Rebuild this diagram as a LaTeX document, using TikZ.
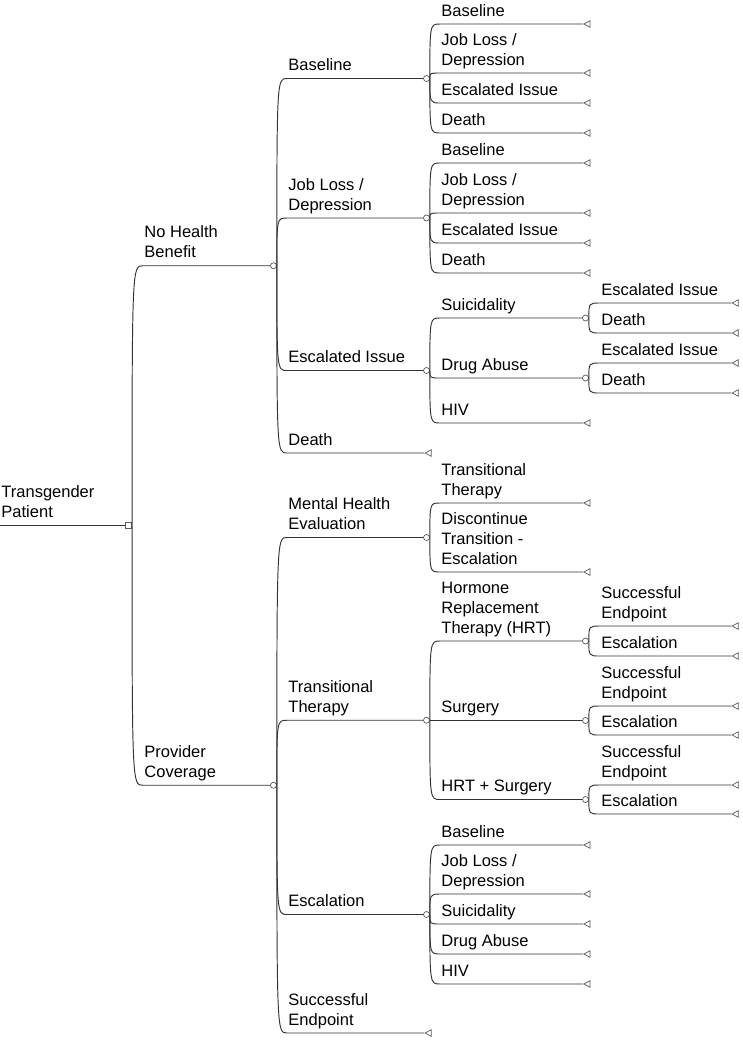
\documentclass[tikz,border=0pt]{standalone}
\usepackage{fontspec}
\setmainfont{Liberation Sans}
\usetikzlibrary{shapes.geometric}
\definecolor{edgegray}{HTML}{333333}
\definecolor{markgray}{HTML}{5A5A5A}

\begin{document}
\begin{tikzpicture}[x=1pt, y=-1pt, line width=0.95pt, color=edgegray,
    lbl/.style={anchor=south west, inner xsep=1pt, inner ysep=1.5pt, align=left, text=black,
      font=\fontsize{16.5}{20}\selectfont, execute at end node=\strut},
    chance/.style={circle, draw=markgray, fill=white, line width=0.7pt, inner sep=0pt, minimum size=6pt},
    decision/.style={rectangle, draw=markgray, fill=white, line width=0.7pt, inner sep=0pt, minimum size=6pt},
    term/.style={isosceles triangle, shape border rotate=180, isosceles triangle stretches,
      draw=markgray, line width=0.7pt, inner sep=0pt, minimum width=6.5pt, minimum height=6pt, anchor=apex},
    link/.style={to path={.. controls (\tikztostart |- \tikztotarget) and (\tikztostart |- \tikztotarget) .. (\tikztotarget)}}]
    \useasboundingbox (0,0) rectangle (742,1042);

    % root
    \node[lbl] (tp) at (0,525.5) {Transgender\\Patient};
    \node[decision] (tpD) at (128.7,525.5) {};
    \draw (tp.south west) -- (tpD);

    % no health benefit
    \node[lbl] (nh) at (143,265.75) {No Health\\Benefit};
    \node[chance] (nhC) at (273.5,265.75) {};
    \draw (tpD.east) to[link] (nh.south west) -- (nhC);

    \node[lbl] (nhBase) at (287,78.5) {Baseline};
    \node[chance] (nhBaseC) at (426.5,78.5) {};
    \draw (nhC.east) to[link] (nhBase.south west) -- (nhBaseC);
    \node[lbl] (nhBase1) at (440,24) {Baseline};
    \node[term] (nhBase1T) at (583,24) {};
    \draw (nhBaseC.east) to[link] (nhBase1.south west) -- (nhBase1T);
    \node[lbl] (nhBase2) at (440,73) {Job Loss /\\Depression};
    \node[term] (nhBase2T) at (583,73) {};
    \draw (nhBaseC.east) to[link] (nhBase2.south west) -- (nhBase2T);
    \node[lbl] (nhBase3) at (440,103) {Escalated Issue};
    \node[term] (nhBase3T) at (583,103) {};
    \draw (nhBaseC.east) to[link] (nhBase3.south west) -- (nhBase3T);
    \node[lbl] (nhBase4) at (440,133) {Death};
    \node[term] (nhBase4T) at (583,133) {};
    \draw (nhBaseC.east) to[link] (nhBase4.south west) -- (nhBase4T);

    \node[lbl] (nhJob) at (287,218) {Job Loss /\\Depression};
    \node[chance] (nhJobC) at (426.5,218) {};
    \draw (nhC.east) to[link] (nhJob.south west) -- (nhJobC);
    \node[lbl] (nhJob1) at (440,163) {Baseline};
    \node[term] (nhJob1T) at (583,163) {};
    \draw (nhJobC.east) to[link] (nhJob1.south west) -- (nhJob1T);
    \node[lbl] (nhJob2) at (440,213) {Job Loss /\\Depression};
    \node[term] (nhJob2T) at (583,213) {};
    \draw (nhJobC.east) to[link] (nhJob2.south west) -- (nhJob2T);
    \node[lbl] (nhJob3) at (440,243) {Escalated Issue};
    \node[term] (nhJob3T) at (583,243) {};
    \draw (nhJobC.east) to[link] (nhJob3.south west) -- (nhJob3T);
    \node[lbl] (nhJob4) at (440,273) {Death};
    \node[term] (nhJob4T) at (583,273) {};
    \draw (nhJobC.east) to[link] (nhJob4.south west) -- (nhJob4T);

    \node[lbl] (nhEsc) at (287,370.5) {Escalated Issue};
    \node[chance] (nhEscC) at (426.5,370.5) {};
    \draw (nhC.east) to[link] (nhEsc.south west) -- (nhEscC);
    \node[lbl] (nhSui) at (440,318) {Suicidality};
    \node[chance] (nhSuiC) at (585.5,318) {};
    \draw (nhEscC.east) to[link] (nhSui.south west) -- (nhSuiC);
    \node[lbl] (nhSui1) at (600,303) {Escalated Issue};
    \node[term] (nhSui1T) at (731.3,303) {};
    \draw (nhSuiC.east) to[link] (nhSui1.south west) -- (nhSui1T);
    \node[lbl] (nhSui2) at (600,333) {Death};
    \node[term] (nhSui2T) at (731.3,333) {};
    \draw (nhSuiC.east) to[link] (nhSui2.south west) -- (nhSui2T);
    \node[lbl] (nhDrug) at (440,378) {Drug Abuse};
    \node[chance] (nhDrugC) at (585.5,378) {};
    \draw (nhEscC.east) to[link] (nhDrug.south west) -- (nhDrugC);
    \node[lbl] (nhDrug1) at (600,363) {Escalated Issue};
    \node[term] (nhDrug1T) at (731.3,363) {};
    \draw (nhDrugC.east) to[link] (nhDrug1.south west) -- (nhDrug1T);
    \node[lbl] (nhDrug2) at (600,393) {Death};
    \node[term] (nhDrug2T) at (731.3,393) {};
    \draw (nhDrugC.east) to[link] (nhDrug2.south west) -- (nhDrug2T);
    \node[lbl] (nhHiv) at (440,423) {HIV};
    \node[term] (nhHivT) at (583,423) {};
    \draw (nhEscC.east) to[link] (nhHiv.south west) -- (nhHivT);

    \node[lbl] (nhDeath) at (287,453) {Death};
    \node[term] (nhDeathT) at (424.3,453) {};
    \draw (nhC.east) to[link] (nhDeath.south west) -- (nhDeathT);

    % provider coverage
    \node[lbl] (pv) at (143,785.25) {Provider\\Coverage};
    \node[chance] (pvC) at (273.5,785.25) {};
    \draw (tpD.east) to[link] (pv.south west) -- (pvC);

    \node[lbl] (pvMental) at (287,537.5) {Mental Health\\Evaluation};
    \node[chance] (pvMentalC) at (426.5,537.5) {};
    \draw (pvC.east) to[link] (pvMental.south west) -- (pvMentalC);
    \node[lbl] (pvMental1) at (440,503) {Transitional\\Therapy};
    \node[term] (pvMental1T) at (583,503) {};
    \draw (pvMentalC.east) to[link] (pvMental1.south west) -- (pvMental1T);
    \node[lbl] (pvMental2) at (440,572) {Discontinue\\Transition -\\Escalation};
    \node[term] (pvMental2T) at (583,572) {};
    \draw (pvMentalC.east) to[link] (pvMental2.south west) -- (pvMental2T);

    \node[lbl] (pvTrans) at (287,720.25) {Transitional\\Therapy};
    \node[chance] (pvTransC) at (426.5,720.25) {};
    \draw (pvC.east) to[link] (pvTrans.south west) -- (pvTransC);
    \node[lbl] (pvHrt) at (440,641) {Hormone\\Replacement\\Therapy (HRT)};
    \node[chance] (pvHrtC) at (585.5,641) {};
    \draw (pvTransC.east) to[link] (pvHrt.south west) -- (pvHrtC);
    \node[lbl] (pvHrt1) at (600,626) {Successful\\Endpoint};
    \node[term] (pvHrt1T) at (731.3,626) {};
    \draw (pvHrtC.east) to[link] (pvHrt1.south west) -- (pvHrt1T);
    \node[lbl] (pvHrt2) at (600,656) {Escalation};
    \node[term] (pvHrt2T) at (731.3,656) {};
    \draw (pvHrtC.east) to[link] (pvHrt2.south west) -- (pvHrt2T);
    \node[lbl] (pvSurg) at (440,720.5) {Surgery};
    \node[chance] (pvSurgC) at (585.5,720.5) {};
    \draw (pvTransC.east) to[link] (pvSurg.south west) -- (pvSurgC);
    \node[lbl] (pvSurg1) at (600,706) {Successful\\Endpoint};
    \node[term] (pvSurg1T) at (731.3,706) {};
    \draw (pvSurgC.east) to[link] (pvSurg1.south west) -- (pvSurg1T);
    \node[lbl] (pvSurg2) at (600,735) {Escalation};
    \node[term] (pvSurg2T) at (731.3,735) {};
    \draw (pvSurgC.east) to[link] (pvSurg2.south west) -- (pvSurg2T);
    \node[lbl] (pvBoth) at (440,799.5) {HRT + Surgery};
    \node[chance] (pvBothC) at (585.5,799.5) {};
    \draw (pvTransC.east) to[link] (pvBoth.south west) -- (pvBothC);
    \node[lbl] (pvBoth1) at (600,785) {Successful\\Endpoint};
    \node[term] (pvBoth1T) at (731.3,785) {};
    \draw (pvBothC.east) to[link] (pvBoth1.south west) -- (pvBoth1T);
    \node[lbl] (pvBoth2) at (600,814) {Escalation};
    \node[term] (pvBoth2T) at (731.3,814) {};
    \draw (pvBothC.east) to[link] (pvBoth2.south west) -- (pvBoth2T);

    \node[lbl] (pvEsc) at (287,914.5) {Escalation};
    \node[chance] (pvEscC) at (426.5,914.5) {};
    \draw (pvC.east) to[link] (pvEsc.south west) -- (pvEscC);
    \node[lbl] (pvEsc1) at (440,845) {Baseline};
    \node[term] (pvEsc1T) at (583,845) {};
    \draw (pvEscC.east) to[link] (pvEsc1.south west) -- (pvEsc1T);
    \node[lbl] (pvEsc2) at (440,894) {Job Loss /\\Depression};
    \node[term] (pvEsc2T) at (583,894) {};
    \draw (pvEscC.east) to[link] (pvEsc2.south west) -- (pvEsc2T);
    \node[lbl] (pvEsc3) at (440,924) {Suicidality};
    \node[term] (pvEsc3T) at (583,924) {};
    \draw (pvEscC.east) to[link] (pvEsc3.south west) -- (pvEsc3T);
    \node[lbl] (pvEsc4) at (440,954) {Drug Abuse};
    \node[term] (pvEsc4T) at (583,954) {};
    \draw (pvEscC.east) to[link] (pvEsc4.south west) -- (pvEsc4T);
    \node[lbl] (pvEsc5) at (440,984) {HIV};
    \node[term] (pvEsc5T) at (583,984) {};
    \draw (pvEscC.east) to[link] (pvEsc5.south west) -- (pvEsc5T);

    \node[lbl] (pvSucc) at (287,1033) {Successful\\Endpoint};
    \node[term] (pvSuccT) at (424.3,1033) {};
    \draw (pvC.east) to[link] (pvSucc.south west) -- (pvSuccT);
\end{tikzpicture}
\end{document}
